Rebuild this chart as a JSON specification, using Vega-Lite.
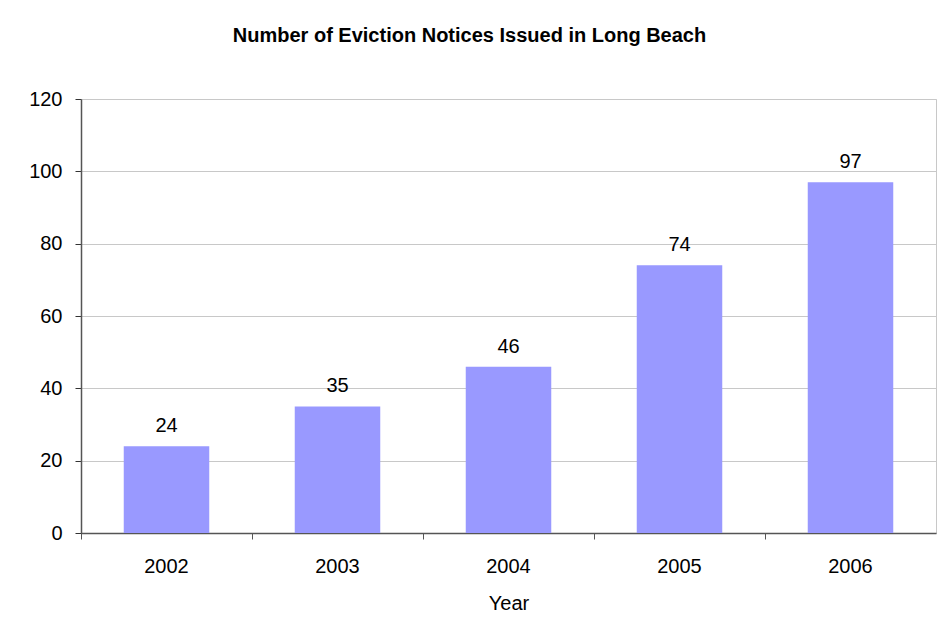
{
  "$schema": "https://vega.github.io/schema/vega-lite/v6.json",
  "width": 855,
  "height": 434,
  "autosize": "none",
  "padding": {"left": 81, "top": 99, "right": 1, "bottom": 101},
  "background": "white",
  "title": {
    "text": "Number of Eviction Notices Issued in Long Beach",
    "font": "Liberation Sans",
    "fontSize": 20,
    "fontWeight": "bold",
    "color": "black",
    "anchor": "middle",
    "dx": -39,
    "offset": 27,
    "baseline": "alphabetic"
  },
  "data": {
    "values": [
      {"Year": "2002", "Notices": 24},
      {"Year": "2003", "Notices": 35},
      {"Year": "2004", "Notices": 46},
      {"Year": "2005", "Notices": 74},
      {"Year": "2006", "Notices": 97}
    ]
  },
  "encoding": {
    "x": {
      "field": "Year",
      "type": "nominal",
      "scale": {"paddingInner": 0, "paddingOuter": 0},
      "axis": {
        "title": "Year",
        "labelAngle": 0,
        "bandPosition": 0,
        "labelOffset": 0,
        "labelFont": "Liberation Sans",
        "labelFontSize": 20,
        "labelColor": "black",
        "labelPadding": 17,
        "tickSize": 6,
        "tickColor": "#555555",
        "domainColor": "#555555",
        "domainWidth": 1.5,
        "titleFont": "Liberation Sans",
        "titleFontSize": 20,
        "titleFontWeight": "normal",
        "titleColor": "black",
        "titlePadding": 17,
        "grid": false
      }
    },
    "y": {
      "field": "Notices",
      "type": "quantitative",
      "scale": {"domain": [0, 120], "nice": false},
      "axis": {
        "title": null,
        "values": [0, 20, 40, 60, 80, 100, 120],
        "labelFont": "Liberation Sans",
        "labelFontSize": 20,
        "labelColor": "black",
        "labelPadding": 13,
        "tickSize": 6,
        "tickColor": "#333333",
        "domainColor": "#555555",
        "domainWidth": 1.5,
        "grid": true,
        "gridColor": "#c8c8c8",
        "gridWidth": 1
      }
    }
  },
  "layer": [
    {
      "mark": {"type": "bar", "color": "#9999FF", "width": {"band": 0.5}}
    },
    {
      "mark": {
        "type": "text",
        "font": "Liberation Sans",
        "fontSize": 20,
        "color": "black",
        "baseline": "alphabetic",
        "dy": -14
      },
      "encoding": {"text": {"field": "Notices", "type": "quantitative"}}
    }
  ],
  "config": {
    "view": {"stroke": "#c8c8c8", "strokeWidth": 1}
  }
}
